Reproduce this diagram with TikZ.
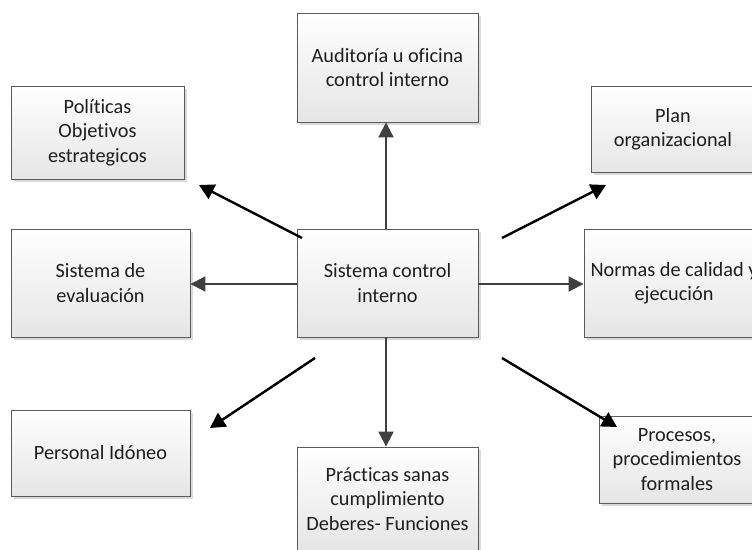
\documentclass[tikz,border=0pt]{standalone}
\usepackage{fontspec}
\setmainfont{Carlito}[Ligatures=NoCommon]
\usetikzlibrary{arrows.meta,shadows}
\definecolor{boxline}{HTML}{5A5A5A}
\definecolor{grayarrow}{HTML}{404040}
\definecolor{txt}{HTML}{1E1E1E}
\tikzset{
  boxnode/.style={draw=boxline, line width=0.9pt, rectangle, top color=white, bottom color=black!10,
    drop shadow={shadow xshift=3pt, shadow yshift=-3pt, fill=black!15, opacity=1},
    align=center, text=txt, font=\fontsize{20.3}{24.5}\selectfont, inner sep=0pt},
  grayarr/.style={draw=grayarrow, line width=2pt, -{Triangle[length=15pt,width=15pt]}},
  blackarr/.style={draw=black, line width=2.4pt, -{Triangle[length=15pt,width=16pt]}}
}
\begin{document}
\begin{tikzpicture}[x=1pt,y=-1pt]
\useasboundingbox (0,0) rectangle (752,549);
\clip (0,0) rectangle (752,549);
\node[boxnode, minimum width=181pt, minimum height=109pt] (aud) at (387.5,67.5) {Auditoría u oficina\\control interno};
\node[boxnode, minimum width=173pt, minimum height=93pt] (pol) at (97.5,132.5) {Políticas\\Objetivos\\estrategicos};
\node[boxnode, minimum width=179pt, minimum height=108pt] (eva) at (100.5,283) {Sistema de\\evaluación};
\node[boxnode, minimum width=181pt, minimum height=108pt] (sci) at (387.5,283) {Sistema control\\interno};
\node[boxnode, minimum width=164pt, minimum height=86pt] (plan) at (673,129) {Plan\\organizacional};
\node[boxnode, minimum width=180pt, minimum height=108pt] (nor) at (674,283) {Normas de calidad y\\ejecución};
\node[boxnode, minimum width=179pt, minimum height=86pt] (per) at (100.5,453) {Personal Idóneo};
\node[boxnode, minimum width=181pt, minimum height=104pt] (pra) at (387.5,499) {Prácticas sanas\\cumplimiento\\Deberes- Funciones};
\node[boxnode, minimum width=156pt, minimum height=87pt] (pro) at (677,459.5) {Procesos,\\procedimientos\\formales};
% gray straight arrows
\draw[grayarr] (sci.north -| 386,0) -- (aud.south -| 386,0);
\draw[grayarr] (sci.south -| 386,0) -- (pra.north -| 386,0);
\draw[grayarr] (sci.west) ++(0,1) -- (eva.east |- 0,284);
\draw[grayarr] (sci.east |- 0,284) -- (nor.west |- 0,284);
% black diagonal arrows
\coordinate (pols) at (302,238);
\coordinate (pole) at (199,185);
\coordinate (plans) at (502,238);
\coordinate (plane) at (606,185);
\coordinate (pers) at (315,358);
\coordinate (pere) at (210,428);
\coordinate (pros) at (502,358);
\coordinate (proe) at (617,427);
\draw[blackarr] (pols) -- (pole);
\draw[blackarr] (plans) -- (plane);
\draw[blackarr] (pers) -- (pere);
\draw[blackarr] (pros) -- (proe);
\end{tikzpicture}
\end{document}
